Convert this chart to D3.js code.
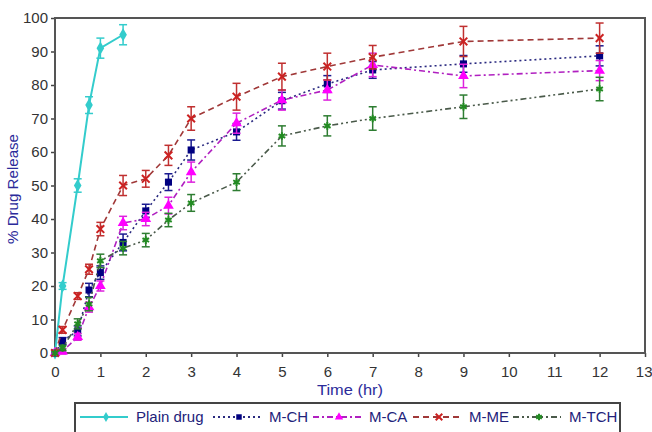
<!DOCTYPE html>
<html><head><meta charset="utf-8">
<script src="https://cdn.jsdelivr.net/npm/d3@7"></script>
<style>body{margin:0;background:#fff}svg{display:block}</style>
</head><body>
<svg id="c" width="652" height="432"></svg>
<script>
// ---- data ----
const plainTime = [0, 0.167, 0.5, 0.75, 1, 1.5];
const plainDrug = [0, 20, 50, 74, 91, 95];
const plainErr  = [0, 1, 2, 2.5, 3, 3];

const time = [0, 0.167, 0.5, 0.75, 1, 1.5, 2, 2.5, 3, 4, 5, 6, 7, 9, 12];
const mCH  = [0, 3.6, 6.6, 18.8, 24, 33, 42.4, 51, 60.6, 66, 75.3, 80.3, 84.5, 86.3, 88.7];
const mCHErr = [0, 1, 1.5, 2, 2, 2.5, 2, 2.5, 3, 2.5, 2.5, 2.5, 2.5, 2.5, 3];
const mCA  = [0, 0.5, 4.8, 13.7, 20, 38.8, 40, 44, 54, 68.6, 75.5, 78.5, 86, 82.7, 84.3];
const mCAErr = [0, 0.8, 1, 1.5, 1.5, 2, 2, 2.5, 3, 3, 3, 3, 3.5, 3.5, 3];
const mME  = [0, 6.9, 17, 25, 37, 50, 52, 59, 70, 76.5, 82.5, 85.5, 88.3, 93, 94];
const mMEErr = [0, 1, 1, 1.5, 2, 3, 2.5, 3, 3.5, 4, 4, 4, 3.5, 4.5, 4.5];
const mTCH = [0, 1.5, 8.7, 14.6, 27.5, 31.3, 33.7, 39.7, 44.8, 51, 64.8, 67.8, 70, 73.5, 78.8];
const mTCHErr = [0, 0.8, 1.5, 2, 2, 2, 2, 2, 2.5, 2.5, 3, 3, 3.5, 3.5, 3.5];

const seriesNames = ["Plain drug", "M-CH", "M-CA", "M-ME", "M-TCH"];
const xTicks = [0,1,2,3,4,5,6,7,8,9,10,11,12,13];
const yTicks = [0,10,20,30,40,50,60,70,80,90,100];

// ---- styles ----
const FONT = "Arial, 'Liberation Sans', sans-serif";
const styles = {
  "Plain drug": {marker:"#33cccc", line:"#33cccc", err:"#33cccc", dash:null, sym:"diamond"},
  "M-CH": {marker:"#000080", line:"#2a2a80", err:"#1a1a90", dash:"2,3", sym:"square"},
  "M-CA": {marker:"#ff00ff", line:"#b020c0", err:"#dd22dd", dash:"6,3,2,3", sym:"triangle"},
  "M-ME": {marker:"#cc2222", line:"#a03838", err:"#c03030", dash:"6,4", sym:"times"},
  "M-TCH": {marker:"#228b22", line:"#4a5a4a", err:"#2e7d32", dash:"6,3,2,3,2,3", sym:"asterisk"}
};

const seriesData = [
  {name:"Plain drug", t:plainTime, v:plainDrug, e:plainErr},
  {name:"M-CH", t:time, v:mCH, e:mCHErr},
  {name:"M-CA", t:time, v:mCA, e:mCAErr},
  {name:"M-ME", t:time, v:mME, e:mMEErr},
  {name:"M-TCH", t:time, v:mTCH, e:mTCHErr}
];

const svg = d3.select("#c");
const x = d3.scaleLinear().domain([0,13]).range([55,645]);
const y = d3.scaleLinear().domain([0,100]).range([353,18]);

// axes
const ya = svg.append("g").attr("transform","translate(55,0)")
  .call(d3.axisLeft(y).tickValues(yTicks).tickSize(4).tickPadding(3));
const xa = svg.append("g").attr("transform","translate(0,353)")
  .call(d3.axisBottom(x).tickValues(xTicks).tickSize(4).tickPadding(9));
[ya, xa].forEach(g => {
  g.select(".domain").remove();
  g.selectAll(".tick line").attr("stroke","#444").attr("stroke-width",1.5);
  g.selectAll(".tick text").attr("fill","#333").style("font-family",FONT)
    .style("font-size","15px");
});
// keep the last x label inside the picture
xa.selectAll(".tick text").filter(d => d === 13).attr("text-anchor","end").attr("x",7);

// frame
svg.append("rect").attr("x",x(0)).attr("y",y(100)).attr("width",x(13)-x(0)).attr("height",y(0)-y(100))
  .attr("fill","none").attr("stroke","#555").attr("stroke-width",2);

// axis titles
svg.append("text").attr("transform",`translate(18,189) rotate(-90)`)
  .attr("text-anchor","middle").attr("fill","#2b2b9a")
  .style("font-family",FONT).style("font-size","15px")
  .attr("textLength",110).attr("lengthAdjust","spacingAndGlyphs")
  .text("% Drug Release");
svg.append("text").attr("x",350).attr("y",395).attr("text-anchor","middle").attr("fill","#2b2b9a")
  .style("font-family",FONT).style("font-size","15px")
  .attr("textLength",66).attr("lengthAdjust","spacingAndGlyphs")
  .text("Time (hr)");

function symPath(kind, size){
  const map = {diamond:d3.symbolDiamond, square:d3.symbolSquare, triangle:d3.symbolTriangle,
    times:d3.symbolTimes || d3.symbolCross, asterisk:d3.symbolAsterisk || d3.symbolCross};
  return d3.symbol().type(map[kind]).size(size)();
}
function drawMarker(g, kind, color, cx, cy, size){
  const stroked = (kind==="times"||kind==="asterisk");
  const p = g.append("path").attr("d", symPath(kind,size)).attr("transform",`translate(${cx},${cy})`);
  if(stroked){ p.attr("fill","none").attr("stroke",color).attr("stroke-width",2); }
  else { p.attr("fill",color); }
}

const line = d3.line().x(d=>x(d[0])).y(d=>y(d[1]));

seriesData.forEach(s => {
  const st = styles[s.name];
  const pts = s.t.map((t,i)=>[t, s.v[i], s.e[i]]);
  const g = svg.append("g");
  g.append("path").datum(pts).attr("d", line).attr("fill","none").attr("stroke", st.line)
    .attr("stroke-width", s.name==="Plain drug"?2:1.6).attr("stroke-dasharray", st.dash);
  // error bars
  pts.forEach(d => {
    if(d[2] <= 0) return;
    const cx = x(d[0]), y1 = y(d[1]+d[2]), y2 = y(d[1]-d[2]);
    g.append("line").attr("x1",cx).attr("x2",cx).attr("y1",y1).attr("y2",y2).attr("stroke",st.err).attr("stroke-width",1.5);
    [y1,y2].forEach(yy => g.append("line").attr("x1",cx-4).attr("x2",cx+4).attr("y1",yy).attr("y2",yy)
      .attr("stroke",st.err).attr("stroke-width",1.5));
  });
  pts.forEach(d => drawMarker(g, st.sym, st.marker, x(d[0]), y(d[1]), st.sym==="times"||st.sym==="asterisk"?40:50));
});

// legend
const lg = svg.append("g");
lg.append("rect").attr("x",75).attr("y",403).attr("width",545).attr("height",34)
  .attr("fill","#fff").attr("stroke","#444").attr("stroke-width",2);
const legendX = [80, 213, 313, 413, 513];
seriesNames.forEach((n,i) => {
  const st = styles[n];
  const lx = legendX[i], ly = 417;
  lg.append("line").attr("x1",lx).attr("x2",lx+48).attr("y1",ly).attr("y2",ly)
    .attr("stroke", st.line).attr("stroke-width",1.8).attr("stroke-dasharray", st.dash);
  drawMarker(lg, st.sym, st.marker, lx+26, ly, 30);
  lg.append("text").attr("x",lx+56).attr("y",ly+5).attr("fill","#22227a")
    .style("font-family",FONT).style("font-size","15px")
    .text(n);
});
</script>
</body></html>
